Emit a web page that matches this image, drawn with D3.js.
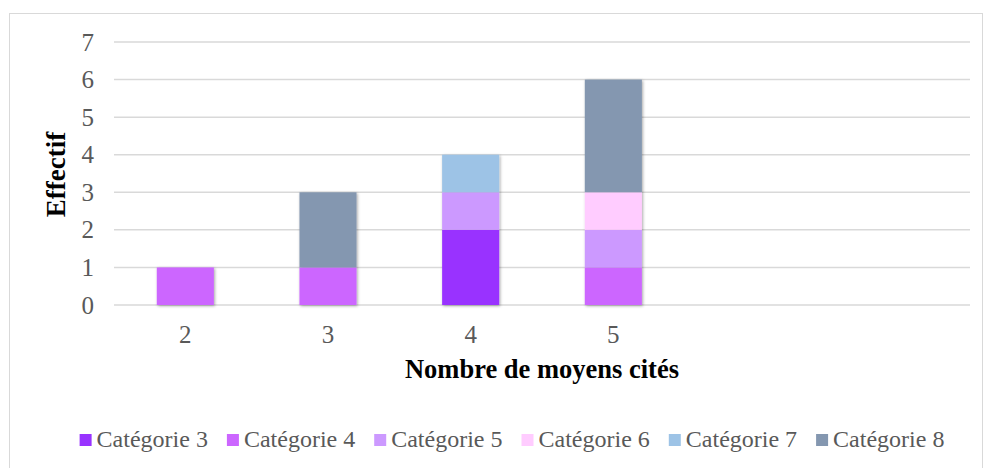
<!DOCTYPE html>
<html>
<head>
<meta charset="utf-8">
<script src="https://cdn.jsdelivr.net/npm/d3@7"></script>
<style>
  body { margin: 0; background: #fff; }
  svg { display: block; }
  svg text { font-family: "Times New Roman", "Liberation Serif", serif; }
</style>
</head>
<body>
<svg id="chart" width="985" height="468"></svg>
<script>
// categories on the x axis (the last two slots are empty)
const moyens = ["2", "3", "4", "5", "", " "];
const series = ["Catégorie 3", "Catégorie 4", "Catégorie 5", "Catégorie 6", "Catégorie 7", "Catégorie 8"];
const colors = ["#9933ff", "#cc66ff", "#cc99ff", "#ffccff", "#9dc3e6", "#8497b0"];

// counts per series, one value per x category
const cat3 = [0, 0, 2, 0, 0, 0];
const cat4 = [1, 1, 0, 1, 0, 0];
const cat5 = [0, 0, 1, 1, 0, 0];
const cat6 = [0, 0, 0, 1, 0, 0];
const cat7 = [0, 0, 1, 0, 0, 0];
const cat8 = [0, 2, 0, 3, 0, 0];
const yTicks = [0, 1, 2, 3, 4, 5, 6, 7];

const values = [cat3, cat4, cat5, cat6, cat7, cat8];
const rows = moyens.map((m, i) => {
  const r = { moyen: m };
  series.forEach((s, j) => (r[s] = values[j][i]));
  return r;
});

const svg = d3.select("#chart");
const margin = { top: 42, right: 15, bottom: 163, left: 114 };
const width = 985 - margin.left - margin.right;
const height = 468 - margin.top - margin.bottom;

// outer chart border
svg.append("rect")
  .attr("x", 9.5).attr("y", 13.5)
  .attr("width", 973).attr("height", 470)
  .attr("fill", "none").attr("stroke", "#d9d9d9");

const defs = svg.append("defs");
const shadow = defs.append("filter").attr("id", "shadow")
  .attr("x", "-20%").attr("y", "-20%").attr("width", "140%").attr("height", "140%");
shadow.append("feDropShadow")
  .attr("dx", 1).attr("dy", 1).attr("stdDeviation", 1.5)
  .attr("flood-color", "#000").attr("flood-opacity", 0.35);

const g = svg.append("g").attr("transform", `translate(${margin.left},${margin.top})`);

const x = d3.scaleBand().domain(moyens).range([0, width]).paddingInner(0.6).paddingOuter(0.3);
const y = d3.scaleLinear().domain([0, 7]).range([height, 0]);
const color = d3.scaleOrdinal().domain(series).range(colors);

// gridlines
g.append("g")
  .selectAll("line")
  .data(yTicks)
  .join("line")
  .attr("x1", 0).attr("x2", width)
  .attr("y1", (d) => y(d)).attr("y2", (d) => y(d))
  .attr("stroke", "#d9d9d9").attr("stroke-width", 1.5);

// y tick labels
g.append("g")
  .attr("transform", "translate(-20,0)")
  .call(d3.axisLeft(y).tickValues(yTicks).tickFormat(d3.format("d")).tickSize(0).tickPadding(0))
  .call((a) => a.select(".domain").remove())
  .call((a) => a.attr("font-family", null).attr("font-size", null))
  .selectAll("text")
  .attr("font-size", 25).attr("fill", "#595959");

// x tick labels
g.append("g")
  .attr("transform", `translate(0,${height})`)
  .call(d3.axisBottom(x).tickSize(0).tickPadding(20))
  .call((a) => a.select(".domain").remove())
  .call((a) => a.attr("font-family", null).attr("font-size", null))
  .selectAll("text")
  .attr("font-size", 25).attr("fill", "#595959");

// stacked bars
const stacked = d3.stack().keys(series)(rows);
g.append("g")
  .attr("filter", "url(#shadow)")
  .selectAll("g")
  .data(stacked)
  .join("g")
  .attr("fill", (d) => color(d.key))
  .selectAll("rect")
  .data((d) => d.filter((p) => p[1] - p[0] > 0))
  .join("rect")
  .attr("x", (d) => x(d.data.moyen))
  .attr("y", (d) => y(d[1]))
  .attr("width", x.bandwidth())
  .attr("height", (d) => y(d[0]) - y(d[1]));

// axis titles
svg.append("text")
  .attr("x", margin.left + width / 2)
  .attr("y", 378)
  .attr("text-anchor", "middle")
  .attr("font-size", 26.5).attr("font-weight", "bold")
  .text("Nombre de moyens cités");

svg.append("text")
  .attr("transform", `translate(65,${margin.top + height / 2 + 1}) rotate(-90)`)
  .attr("text-anchor", "middle")
  .attr("font-size", 27).attr("font-weight", "bold")
  .text("Effectif");

// legend
const legend = svg.append("g");
let lx = 0;
series.forEach((s) => {
  const item = legend.append("g").attr("transform", `translate(${lx},0)`);
  item.append("rect").attr("x", 0).attr("y", -5).attr("width", 12).attr("height", 12).attr("fill", color(s));
  const t = item.append("text")
    .attr("x", 17).attr("y", 0).attr("dy", "0.35em")
    .attr("font-size", 24).attr("fill", "#595959")
    .text(s);
  lx += 17 + t.node().getComputedTextLength() + 19;
});
const legendWidth = lx - 19;
legend.attr("transform", `translate(${512 - legendWidth / 2},439)`);
</script>
</body>
</html>
